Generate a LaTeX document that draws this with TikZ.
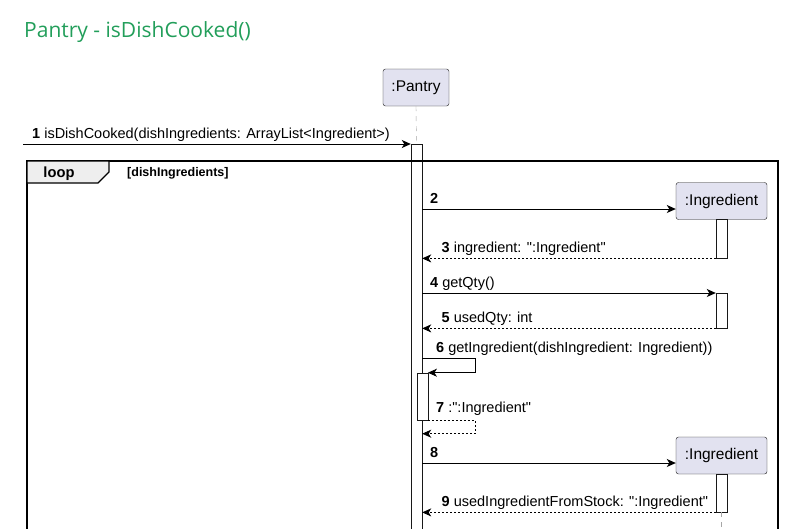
\documentclass[tikz,border=0pt]{standalone}
\usepackage{fontspec}
\setmainfont{Liberation Sans}[Ligatures=TeXOff]
\newfontfamily\titlefont{Open Sans}
\usetikzlibrary{arrows.meta}
\definecolor{titlegreen}{RGB}{34,158,90}
\definecolor{partfill}{RGB}{226,226,240}
\definecolor{tabfill}{RGB}{238,238,238}
\definecolor{edgegray}{RGB}{24,24,24}
\newcommand{\dq}{\symbol{34}}
\begin{document}
\begin{tikzpicture}[x=1pt,y=-1pt,>={Stealth[length=9pt,width=8pt,inset=2.5pt]},
  participant/.style={draw=edgegray,fill=partfill,rounded corners=2.5pt,minimum width=#1,minimum height=37pt,inner sep=0pt,font=\fontsize{15.5}{18}\selectfont},
  actbar/.style={draw=edgegray,fill=white,minimum width=11pt,minimum height=#1,inner sep=0pt,anchor=north},
  lifeline/.style={draw=gray!70,dashed,dash pattern=on 5pt off 5pt},
  msg/.style={->,draw=black,line width=0.9pt},
  ret/.style={->,draw=black,line width=0.9pt,dash pattern=on 2pt off 2pt},
  msglabel/.style={anchor=base west,inner sep=0pt,font=\fontsize{14.5}{17}\selectfont}]
\useasboundingbox (0,0) rectangle (793,528);

\node[anchor=base west,inner sep=0pt,text=titlegreen,font=\titlefont\fontsize{21}{24}\selectfont] (title) at (24,37.3) {Pantry - isDishCooked()};

% participants
\node[participant=66pt] (pantry) at (416,87.5) {:Pantry};
\node[participant=91pt] (ing1) at (721.5,201) {:Ingredient};
\node[participant=91pt] (ing2) at (721.5,455.5) {:Ingredient};

% activations
\node[actbar=390pt] (pantryact) at (416.5,144) {};
\node[actbar=38.7pt] (ing1act1) at (721.5,219.3) {};
\node[actbar=35pt] (ing1act2) at (721.5,293) {};
\node[actbar=47.3pt] (selfact) at (422.2,372.7) {};
\node[actbar=38pt] (ing2act) at (721.5,474) {};

\draw[lifeline] (pantry.south) -- (pantryact.north);
\draw[lifeline] (ing2act.south) -- (721.5,530);

% loop frame
\draw[line width=1.8pt] (27,535) -- (27,161) -- (778,161) -- (778,535);
\draw[fill=tabfill,line width=1.2pt] (27,161) -- (109,161) -- (109,172) -- (98,183) -- (27,183) -- cycle;
\node[font=\bfseries\fontsize{14.7}{17}\selectfont] (loop) at (59,173.5) {loop};
\node[anchor=west,inner sep=0pt,font=\bfseries\fontsize{12.5}{15}\selectfont] (guard) at (127,173.5) {[dishIngredients]};

% messages
\coordinate (caller) at (23,144);
\draw[msg] (caller) -- (pantryact.north west);
\node[msglabel] (m1) at (32,138) {\textbf{1} isDishCooked(dishIngredients: ArrayList<Ingredient>)};

\draw[msg] (pantryact.east |- 0,209) -- (ing1.west |- 0,209);
\node[msglabel] (m2) at (430,203) {\textbf{2}};

\draw[ret] (ing1act1.south west) -- (pantryact.east |- ing1act1.south);
\node[msglabel] (m3) at (441.5,252) {\textbf{3} ingredient: \dq:Ingredient\dq};

\draw[msg] (pantryact.east |- ing1act2.north) -- (ing1act2.north west);
\node[msglabel] (m4) at (430,287) {\textbf{4} getQty()};

\draw[ret] (ing1act2.south west) -- (pantryact.east |- ing1act2.south);
\node[msglabel] (m5) at (441.5,322) {\textbf{5} usedQty: int};

\draw[msg] (pantryact.east |- 0,358) -- ++(53,0) |- (selfact.north east);
\node[msglabel] (m6) at (436,352) {\textbf{6} getIngredient(dishIngredient: Ingredient))};

\draw[ret] (selfact.south east) -- ++(47.3,0) |- (pantryact.east |- 0,433.7);
\node[msglabel] (m7) at (436,412.7) {\textbf{7} :\dq:Ingredient\dq};

\draw[msg] (pantryact.east |- 0,463) -- (ing2.west |- 0,463);
\node[msglabel] (m8) at (430,457) {\textbf{8}};

\draw[ret] (ing2act.south west) -- (pantryact.east |- ing2act.south);
\node[msglabel] (m9) at (441.5,506) {\textbf{9} usedIngredientFromStock: \dq:Ingredient\dq};
\end{tikzpicture}
\end{document}
